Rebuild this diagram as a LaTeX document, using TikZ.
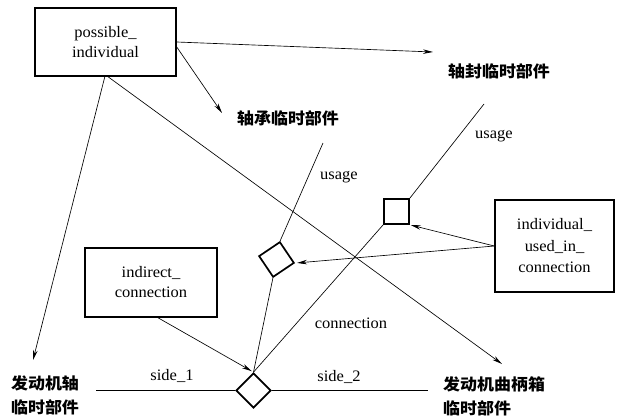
\documentclass[tikz,border=0pt]{standalone}
\usepackage{fontspec}
\setmainfont{Liberation Serif}[FakeStretch=1.03]
\newfontfamily\cjk{Noto Sans CJK SC}[FakeStretch=1.06]
\usetikzlibrary{shapes.geometric,arrows.meta}
\begin{document}
\begin{tikzpicture}[x=1pt,y=-1pt,
  font=\fontsize{16}{20}\selectfont,
  box/.style={draw, line width=1.5pt, align=center, inner sep=0pt},
  arr/.style={-{Stealth[length=10pt,width=4.5pt]}, line width=0.65pt},
  ln/.style={line width=0.65pt},
  cjkl/.style={font=\fontsize{16}{24}\selectfont\cjk\bfseries, align=left, inner sep=0pt},
  lbl/.style={inner sep=0pt},
  markbox/.style={draw, line width=1.7pt, inner sep=0pt}]
\useasboundingbox (0,0) rectangle (619,418);
% boxes
\node[box, minimum width=141pt, minimum height=68pt] (pi) at (105.5,42) {possible\_\\individual};
\node[box, minimum width=132pt, minimum height=69pt] (ic) at (151,282.5) {indirect\_\\connection};
\node[box, minimum width=119pt, minimum height=92pt, font=\fontsize{16}{21.5}\selectfont] (iu) at (554.5,246) {individual\_\\used\_in\_\\connection};
% markers
\node[markbox, minimum size=25pt] (sq) at (396.5,211.5) {};
\node[markbox, minimum size=25pt, rotate=34] (sd) at (276.5,259.5) {};
\node[markbox, diamond, minimum width=35pt, minimum height=35pt] (bd) at (253.5,390.5) {};
% labels
\node[cjkl] (l1) at (288,118) {轴承临时部件};
\node[cjkl] (l2) at (499,71) {轴封临时部件};
\node[cjkl] (l3) at (45,395) {发动机轴\\临时部件};
\node[cjkl, anchor=west] (l4) at (443,396.5) {发动机曲柄箱\\临时部件};
\node[lbl] (u1) at (339,177) {usage};
\node[lbl] (u2) at (494,136) {usage};
\node[lbl] (cn) at (351,323) {connection};
\node[lbl] (s1) at (172,376) {side\_1};
\node[lbl] (s2) at (339,377) {side\_2};
% free ends
\coordinate (c1) at (433,52);
\coordinate (c2) at (222,113);
\coordinate (c3) at (33,360);
\coordinate (c4) at (502,364);
\coordinate (c5) at (323,143);
\coordinate (c6) at (484,104);
\coordinate (c7) at (96,390.5);
\coordinate (c8) at (428,390.5);
\coordinate (p1) at (105,76);
\coordinate (p2) at (107,76);
% connectors
\draw[arr] (pi.east) -- (c1);
\draw[arr] (pi.-4) -- (c2);
\draw[arr] (p1) -- (c3);
\draw[arr] (p2) -- (c4);
\draw[arr, shorten >=2pt] ([xshift=7pt]ic.south) -- (bd.north);
\draw[ln] (bd.north) -- (sd.south west);
\draw[ln] (bd.north) -- (sq.south west);
\draw[ln] (sd.north east) -- (c5);
\draw[ln] (sq.north east) -- (c6);
\draw[arr, shorten >=1pt] (iu.west) -- (sq.south east);
\draw[arr, shorten >=2pt] (iu.west) -- (sd.south east);
\draw[ln] (c7) -- (bd.west);
\draw[ln] (bd.east) -- (c8);
\end{tikzpicture}
\end{document}
